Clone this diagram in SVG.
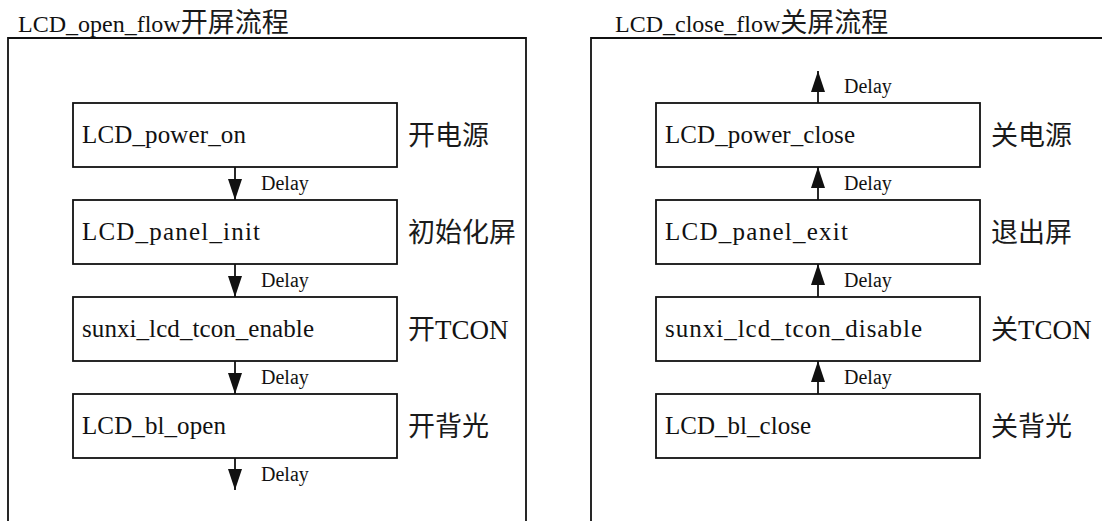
<svg xmlns="http://www.w3.org/2000/svg" width="1102" height="521" viewBox="0 0 1102 521">
<defs>
<style>
.t{font-family:'Liberation Serif',serif;fill:#111;}
.title{font-size:24px;}
.cjk{font-family:'Noto Sans CJK SC',sans-serif;font-size:27px;fill:#1a1a1a;}
.box rect{fill:#fff;stroke:#111;stroke-width:1.8;}
.box text{font-size:25px;}
.lab{font-size:27px;}
.frame{fill:none;stroke:#111;stroke-width:1.8;}
.conn line{stroke:#111;stroke-width:1.8;}
.delay{font-size:20px;}
</style>
<marker id="ah" markerUnits="userSpaceOnUse" markerWidth="21" markerHeight="14" refX="21" refY="7" orient="auto">
<path d="M0,0 L21,7 L0,14 Z" fill="#111"/>
</marker>
</defs>
<rect width="1102" height="521" fill="#fff"/>
<g id="open-frame">
<path class="frame" d="M8,540 V38 H526 V540"/>
<text class="t title" x="18" y="32">LCD_open_flow<tspan class="cjk">开屏流程</tspan></text>
</g>
<g id="close-frame">
<path class="frame" d="M591,540 V38 H1110"/>
<text class="t title" x="615" y="32">LCD_close_flow<tspan class="cjk">关屏流程</tspan></text>
</g>
<g id="open1" class="box"><rect x="73" y="103" width="324" height="64"/><text class="t" x="82" y="143" textLength="164">LCD_power_on</text></g>
<g id="open2" class="box"><rect x="73" y="200" width="324" height="64"/><text class="t" x="82" y="240" textLength="178">LCD_panel_init</text></g>
<g id="open3" class="box"><rect x="73" y="297" width="324" height="64"/><text class="t" x="82" y="337" textLength="232">sunxi_lcd_tcon_enable</text></g>
<g id="open4" class="box"><rect x="73" y="394" width="324" height="64"/><text class="t" x="82" y="434" textLength="144">LCD_bl_open</text></g>
<g id="close1" class="box"><rect x="656" y="103" width="324" height="64"/><text class="t" x="665" y="143" textLength="190">LCD_power_close</text></g>
<g id="close2" class="box"><rect x="656" y="200" width="324" height="64"/><text class="t" x="665" y="240" textLength="183">LCD_panel_exit</text></g>
<g id="close3" class="box"><rect x="656" y="297" width="324" height="64"/><text class="t" x="665" y="337" textLength="257">sunxi_lcd_tcon_disable</text></g>
<g id="close4" class="box"><rect x="656" y="394" width="324" height="64"/><text class="t" x="665" y="434" textLength="146">LCD_bl_close</text></g>
<g id="labels">
<text class="cjk" x="408" y="145">开电源</text>
<text class="cjk" x="408" y="242">初始化屏</text>
<text class="t lab" x="408" y="339"><tspan class="cjk">开</tspan>TCON</text>
<text class="cjk" x="408" y="436">开背光</text>
<text class="cjk" x="991" y="145">关电源</text>
<text class="cjk" x="991" y="242">退出屏</text>
<text class="t lab" x="991" y="339"><tspan class="cjk">关</tspan>TCON</text>
<text class="cjk" x="991" y="436">关背光</text>
</g>
<g id="connectors" class="conn">
<line x1="235" y1="167" x2="235" y2="200" marker-end="url(#ah)"/>
<line x1="235" y1="264" x2="235" y2="297" marker-end="url(#ah)"/>
<line x1="235" y1="361" x2="235" y2="394" marker-end="url(#ah)"/>
<line x1="235" y1="458" x2="235" y2="490" marker-end="url(#ah)"/>
<line x1="818" y1="103" x2="818" y2="71" marker-end="url(#ah)"/>
<line x1="818" y1="200" x2="818" y2="167" marker-end="url(#ah)"/>
<line x1="818" y1="297" x2="818" y2="264" marker-end="url(#ah)"/>
<line x1="818" y1="394" x2="818" y2="361" marker-end="url(#ah)"/>
<text class="t delay" x="261" y="190">Delay</text>
<text class="t delay" x="261" y="287">Delay</text>
<text class="t delay" x="261" y="384">Delay</text>
<text class="t delay" x="261" y="481">Delay</text>
<text class="t delay" x="844" y="93">Delay</text>
<text class="t delay" x="844" y="190">Delay</text>
<text class="t delay" x="844" y="287">Delay</text>
<text class="t delay" x="844" y="384">Delay</text>
</g>
</svg>
